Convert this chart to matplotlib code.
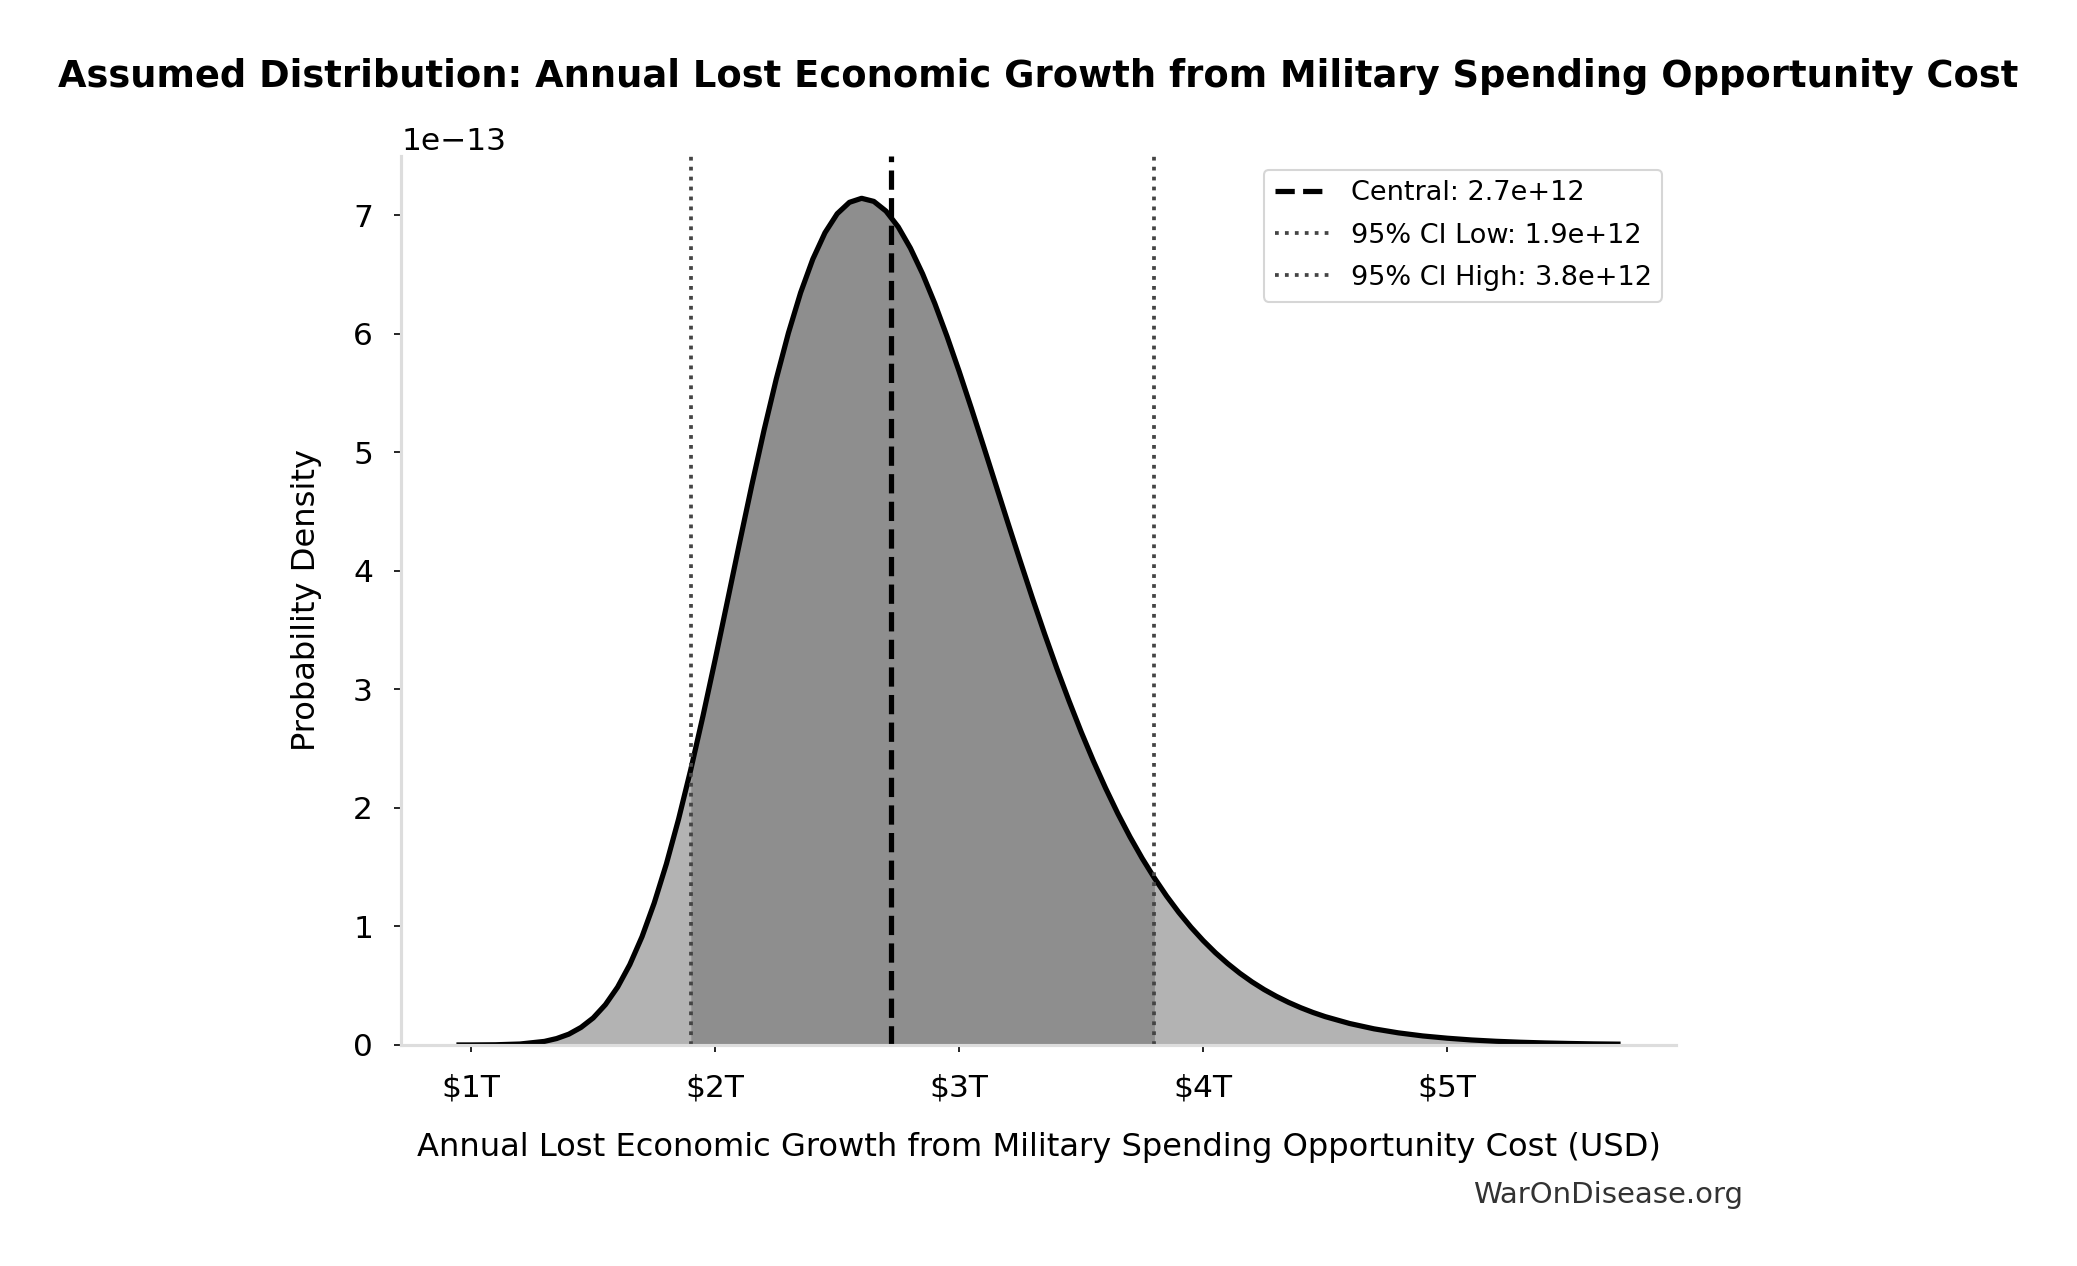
import numpy as np
import matplotlib
matplotlib.use('Agg')
import matplotlib.pyplot as plt
from matplotlib.ticker import FuncFormatter

# values
# x in trillions of USD, density in units of 1e-13
x_trillion = [0.95, 1.0, 1.1, 1.2, 1.3, 1.35, 1.4, 1.45, 1.5, 1.55, 1.6, 1.65,
              1.7, 1.75, 1.8, 1.85, 1.9, 1.95, 2.0, 2.05, 2.1, 2.15, 2.2, 2.25,
              2.3, 2.35, 2.4, 2.45, 2.5, 2.55, 2.6, 2.65, 2.7, 2.75, 2.8, 2.85,
              2.9, 2.95, 3.0, 3.05, 3.1, 3.15, 3.2, 3.25, 3.3, 3.35, 3.4, 3.45,
              3.5, 3.55, 3.6, 3.65, 3.7, 3.75, 3.8, 3.85, 3.9, 3.95, 4.0, 4.05,
              4.1, 4.15, 4.2, 4.25, 4.3, 4.35, 4.4, 4.45, 4.5, 4.6, 4.7, 4.8,
              4.9, 5.0, 5.1, 5.2, 5.3, 5.4, 5.5, 5.6, 5.7]
density_e13 = [0.0001, 0.0002, 0.0016, 0.008, 0.030, 0.054, 0.091, 0.148, 0.228, 0.340, 0.488, 0.678,
               0.913, 1.197, 1.528, 1.906, 2.324, 2.776, 3.252, 3.743, 4.237, 4.721, 5.184, 5.615,
               6.005, 6.345, 6.628, 6.851, 7.011, 7.107, 7.141, 7.115, 7.033, 6.900, 6.721, 6.504,
               6.254, 5.977, 5.680, 5.369, 5.049, 4.725, 4.401, 4.082, 3.769, 3.467, 3.177, 2.902,
               2.640, 2.395, 2.166, 1.952, 1.755, 1.574, 1.408, 1.256, 1.118, 0.993, 0.880, 0.778,
               0.687, 0.605, 0.532, 0.467, 0.410, 0.359, 0.314, 0.274, 0.239, 0.181, 0.136, 0.102,
               0.076, 0.057, 0.042, 0.031, 0.023, 0.017, 0.0125, 0.009, 0.007]

central = 2.72e12
ci_low = 1.9e12
ci_high = 3.8e12

title = 'Assumed Distribution: Annual Lost Economic Growth from Military Spending Opportunity Cost'
xlabel = 'Annual Lost Economic Growth from Military Spending Opportunity Cost (USD)'

x = np.array(x_trillion) * 1e12
y = np.array(density_e13) * 1e-13

fig = plt.figure(figsize=(2077/150, 1266/150), dpi=150)
ax = fig.add_axes([0.1931, 0.1746, 0.8069-0.1931, 0.8768-0.1746])

ax.fill_between(x, y, color='#b3b3b3', linewidth=0)
inside = (x >= ci_low) & (x <= ci_high)
ax.fill_between(x, y, where=inside, color='#8e8e8e', linewidth=0)
ax.plot(x, y, color='black', lw=2.5)

ax.axvline(central, color='black', ls='--', lw=2.5, label='Central: {:.1e}'.format(central))
ax.axvline(ci_low, color='#444444', ls=':', lw=1.8, label='95% CI Low: {:.1e}'.format(ci_low))
ax.axvline(ci_high, color='#444444', ls=':', lw=1.8, label='95% CI High: {:.1e}'.format(ci_high))

ax.set_ylim(bottom=0)
ax.xaxis.set_major_formatter(FuncFormatter(lambda v, p: '$%dT' % round(v / 1e12)))
ax.tick_params(axis='both', labelsize=15, pad=10)
ax.yaxis.get_offset_text().set_fontsize(15)

for s in ['top', 'right']:
  ax.spines[s].set_visible(False)
for s in ['left', 'bottom']:
  ax.spines[s].set_color('#dddddd')
  ax.spines[s].set_linewidth(1.5)

ax.set_xlabel(xlabel, fontsize=15.4)
ax.xaxis.set_label_coords(0.5, -0.0975)
ax.set_ylabel('Probability Density', fontsize=15.4)
ax.yaxis.set_label_coords(-0.062, 0.5)

leg = ax.legend(loc='upper right', fontsize=13, labelspacing=0.6)
leg.get_frame().set_edgecolor('#cccccc')

fig.text(0.5, 0.9395, title, ha='center', va='center', fontsize=17.7, fontweight='bold')
fig.text(0.839, 0.056, 'WarOnDisease.org', ha='right', va='center', fontsize=14, color='#333333')

fig.savefig('out.png', dpi=150)
